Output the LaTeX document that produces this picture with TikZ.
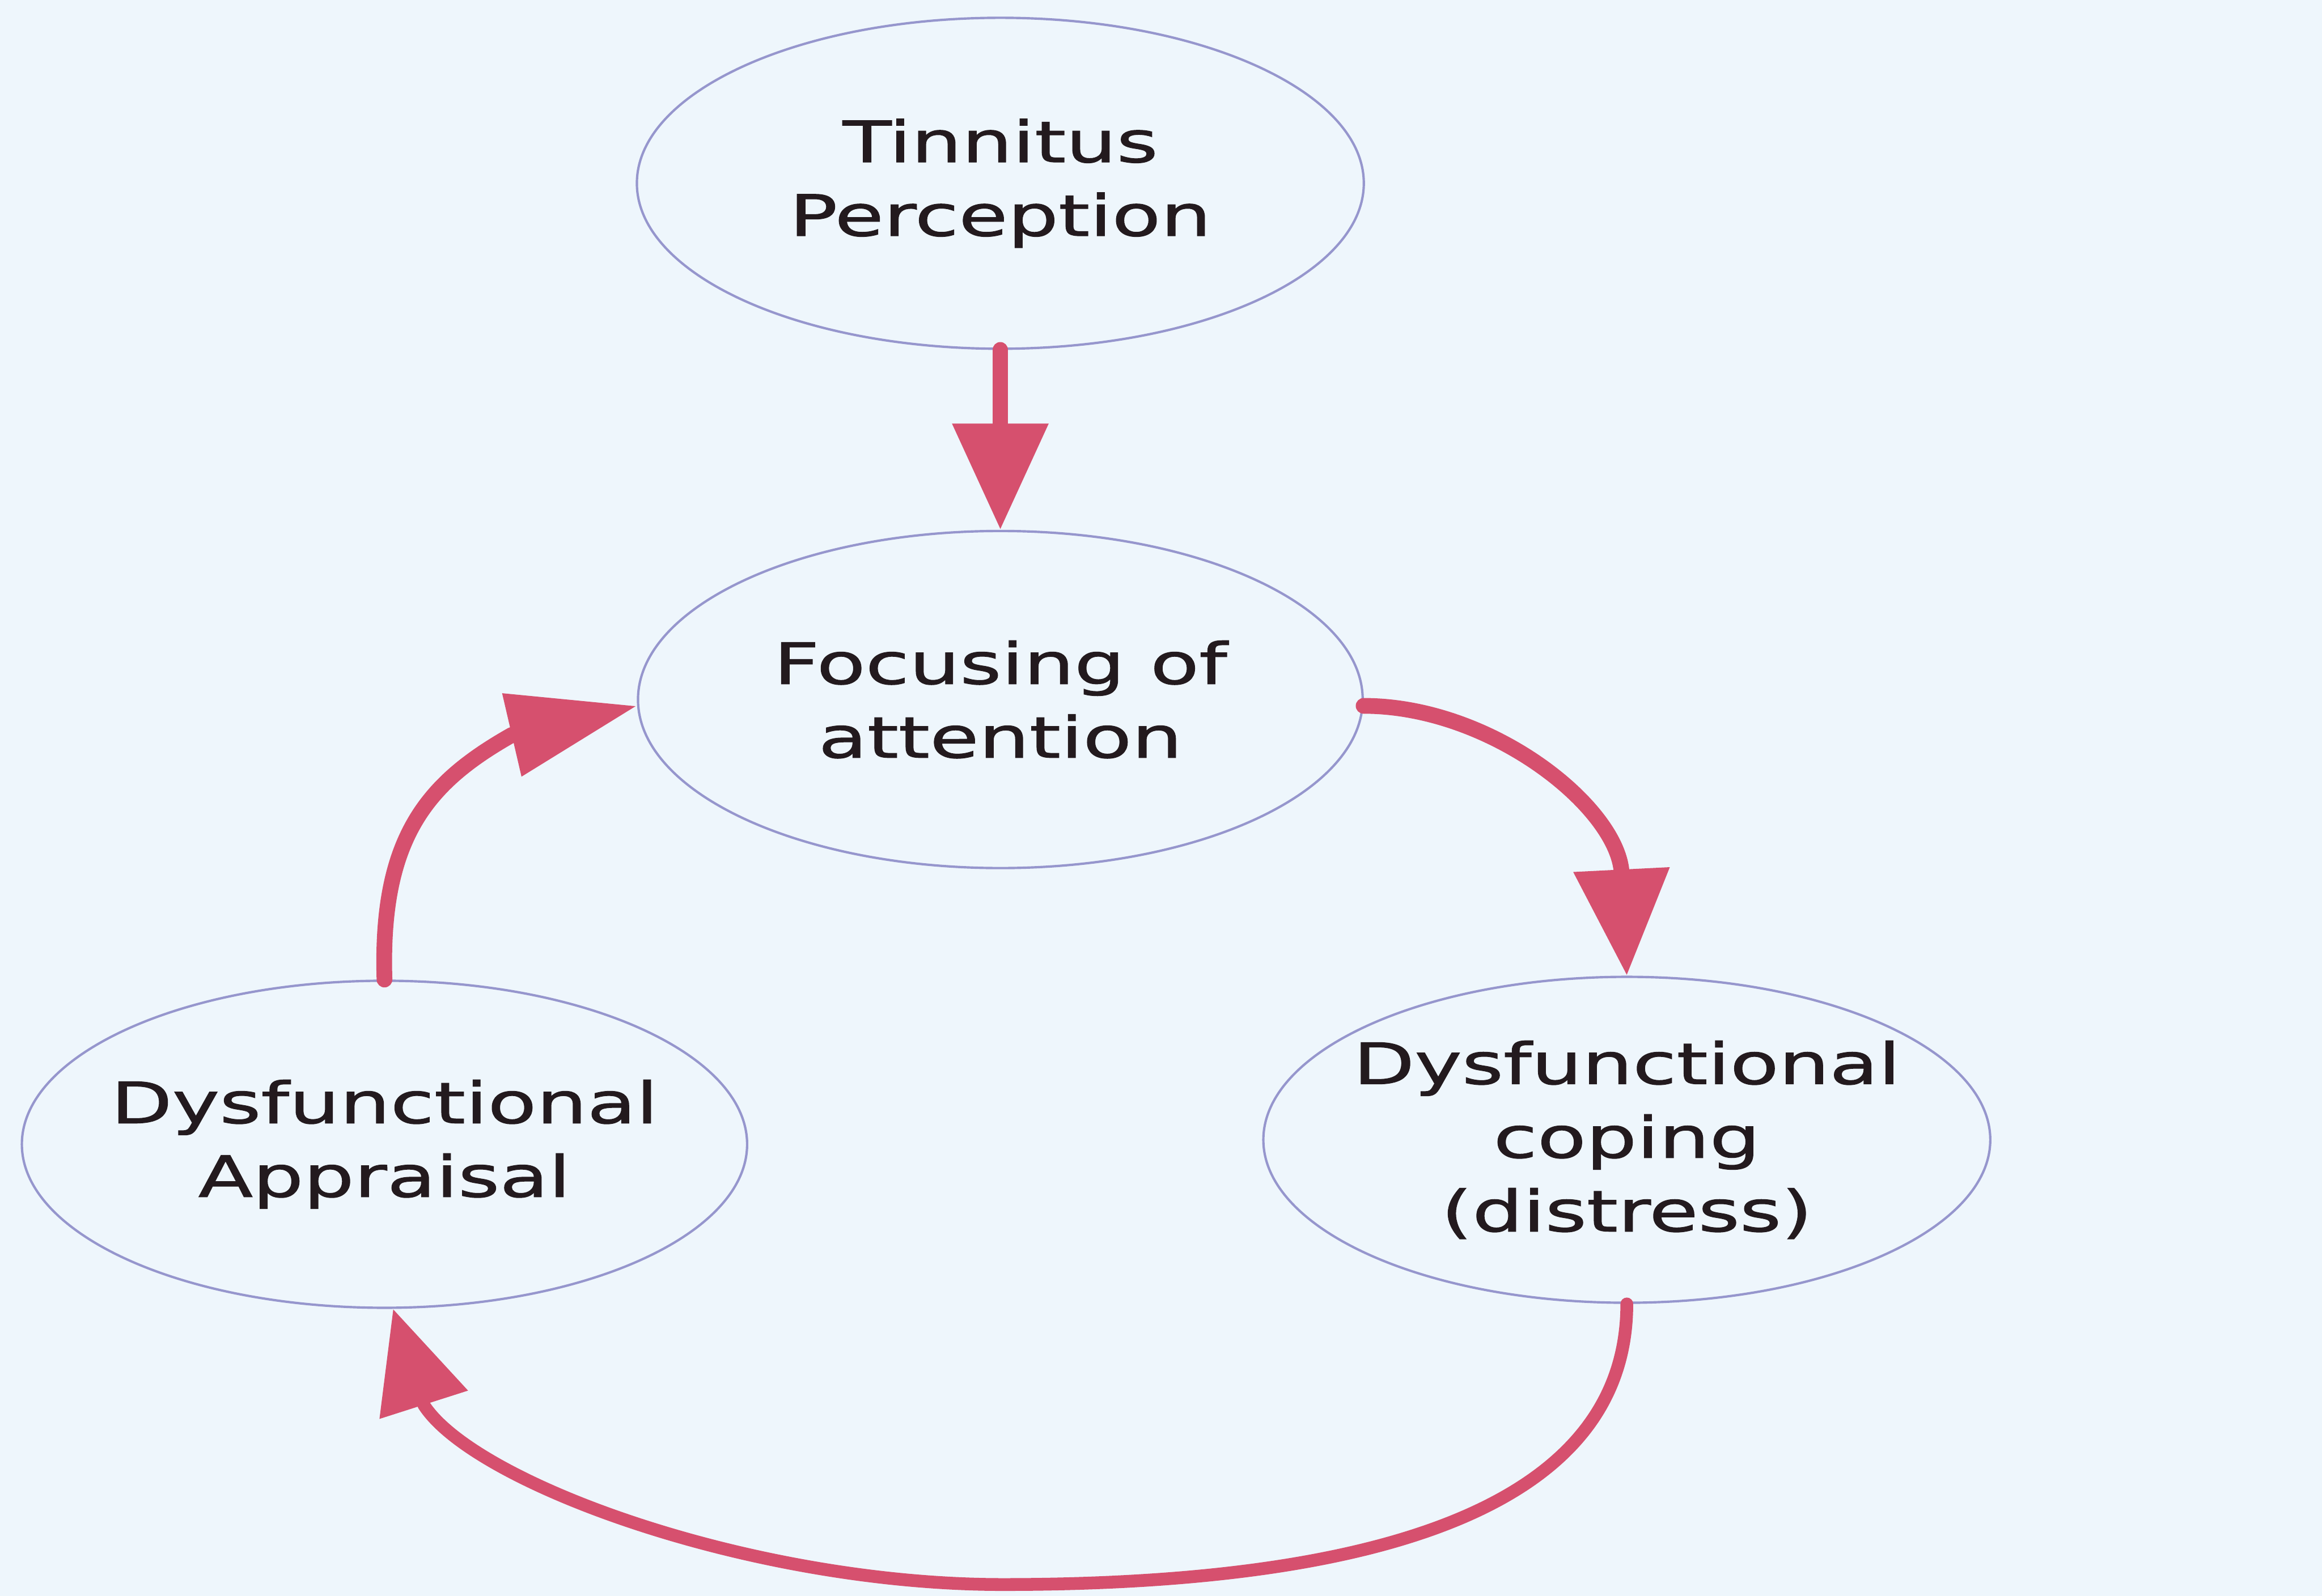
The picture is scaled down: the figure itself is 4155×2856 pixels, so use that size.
\documentclass[tikz,border=0pt]{standalone}
\usepackage{fontspec}
\setmainfont{DejaVu Sans}[FakeStretch=1.4,FakeBold=1.2]
\usetikzlibrary{shapes.geometric,arrows.meta,calc}
\definecolor{bgc}{RGB}{238,246,252}
\definecolor{ellc}{RGB}{150,150,205}
\definecolor{arrc}{RGB}{214,80,110}
\definecolor{txtc}{RGB}{35,26,30}
\begin{document}
\begin{tikzpicture}[x=0.01cm,y=-0.01cm,
  ell/.style={ellipse, draw=ellc, line width=1.2pt, inner sep=0pt},
  txt/.style={font=\fontsize{29}{37.5}\selectfont, align=center, text=txtc, inner sep=0pt},
  flow/.style={draw=arrc, line width=8pt, line cap=round, line join=round, -{Triangle[length=19mm,width=16.5mm]}},
]
\fill[bgc] (0,0) rectangle (4155,2856);
\useasboundingbox (0,0) rectangle (4155,2856);

\node[ell, minimum width=13cm, minimum height=5.92cm,
  label={[txt]center:Tinnitus\\Perception}] (t) at (1790,328) {};
\node[ell, minimum width=12.96cm, minimum height=6.03cm,
  label={[txt]center:Focusing of\\attention}] (f) at (1790,1252) {};
\node[ell, minimum width=12.97cm, minimum height=5.85cm,
  label={[txt]center:Dysfunctional\\Appraisal}] (a) at (688,2048) {};
\node[ell, minimum width=13cm, minimum height=5.83cm,
  label={[txt]center:Dysfunctional\\coping\\(distress)}] (c) at (2911,2040) {};

\coordinate (bot) at (1794,2836);
\coordinate (hbC) at ($(a.-87)+(55,172)$);
\coordinate (hbD) at ($(f.181)+(-224,52)$);

\draw[flow] (t.south) -- (f.north);
\draw[flow] (f.-1) .. controls +(230,0) and +(-15,-300) .. (c.north);
\draw[flow, line width=6.5pt, -{Triangle[length=18mm,width=16mm]}]
  (c.south) .. controls +(0,360) and +(680,0) .. (bot)
  .. controls +(-450,0) and +(90,140) .. (hbC) -- (a.-87);
\draw[flow, -{Triangle[length=23mm,width=14.5mm]}]
  (a.north) .. controls +(-8,-256) and +(-150,85) .. (hbD) -- (f.181);
\end{tikzpicture}
\end{document}
